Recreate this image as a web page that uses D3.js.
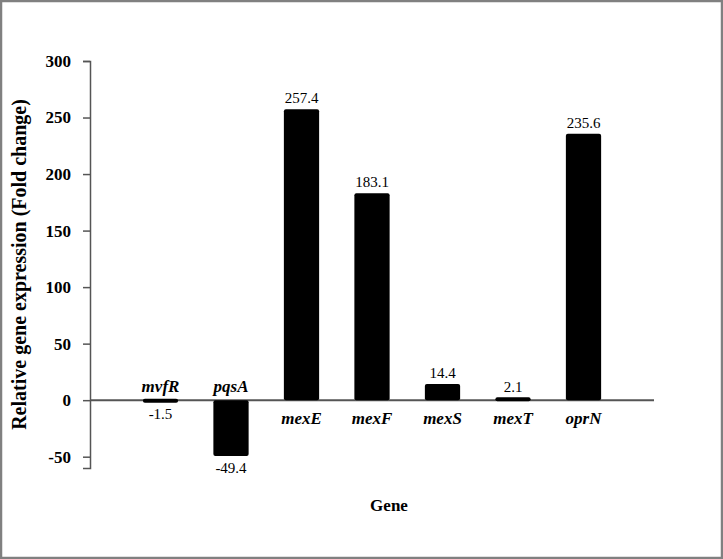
<!DOCTYPE html>
<html>
<head>
<meta charset="utf-8">
<script src="https://cdn.jsdelivr.net/npm/d3@7"></script>
<style>
  body { margin: 0; background: #fff; }
  svg { display: block; }
</style>
</head>
<body>
<svg id="chart" width="723" height="559"></svg>
<script>
const genes = ['mvfR', 'pqsA', 'mexE', 'mexF', 'mexS', 'mexT', 'oprN']
const foldChange = [-1.5, -49.4, 257.4, 183.1, 14.4, 2.1, 235.6]
const yTicks = [-50, 0, 50, 100, 150, 200, 250, 300]

const width = 723
const height = 559
const margin = { left: 90, right: 69, top: 61, bottom: 91 }
const font = '"Liberation Serif", "Times New Roman", serif'
const axisColor = '#555'

const svg = d3.select('#chart')

// outer frame
svg.append('rect')
  .attr('x', 1).attr('y', 1)
  .attr('width', width - 2).attr('height', height - 2)
  .attr('fill', 'none')
  .attr('stroke', '#808080')
  .attr('stroke-width', 2.5)

const x = d3.scaleBand()
  .domain(genes)
  .range([margin.left, width - margin.right])
  .paddingInner(0.5)
  .paddingOuter(0.75)

const y = d3.scaleLinear()
  .domain([-60, 300])
  .range([height - margin.bottom, margin.top])

// zero line
svg.append('line')
  .attr('x1', margin.left).attr('x2', width - margin.right)
  .attr('y1', y(0)).attr('y2', y(0))
  .attr('stroke', axisColor)
  .attr('stroke-width', 2)

// bars, drawn over the zero line (tiny ones get a minimum thickness)
svg.append('g')
  .selectAll('rect')
  .data(genes)
  .join('rect')
  .attr('x', d => x(d))
  .attr('width', x.bandwidth())
  .attr('y', (d, i) => {
    const h = Math.abs(y(foldChange[i]) - y(0))
    if (h < 4) return foldChange[i] >= 0 ? y(0) - 3 : y(0) - 1.5
    return y(Math.max(0, foldChange[i]))
  })
  .attr('height', (d, i) => Math.max(4, Math.abs(y(foldChange[i]) - y(0))))
  .attr('rx', 2)
  .attr('fill', '#000')

// y axis
const yAxis = svg.append('g')
  .attr('transform', `translate(${margin.left},0)`)
  .call(d3.axisLeft(y).tickValues(yTicks).tickFormat(d => String(d))
    .tickSizeOuter(0).tickSize(7).tickPadding(12))
yAxis.select('.domain').attr('stroke', axisColor).attr('stroke-width', 1.5)
yAxis.selectAll('.tick line').attr('stroke', axisColor).attr('stroke-width', 1.5)
yAxis.selectAll('.tick text')
  .attr('font-family', font)
  .attr('font-size', 17)
  .attr('font-weight', 'bold')
  .attr('fill', '#000')

// value labels
svg.append('g')
  .selectAll('text')
  .data(genes)
  .join('text')
  .attr('x', d => x(d) + x.bandwidth() / 2)
  .attr('y', (d, i) => foldChange[i] >= 0 ? y(foldChange[i]) - 6 : y(foldChange[i]) + 17)
  .attr('text-anchor', 'middle')
  .attr('font-family', font)
  .attr('font-size', 15)
  .text((d, i) => String(foldChange[i]))

// gene labels
svg.append('g')
  .selectAll('text')
  .data(genes)
  .join('text')
  .attr('x', d => x(d) + x.bandwidth() / 2)
  .attr('y', (d, i) => foldChange[i] >= 0 ? y(0) + 24 : y(0) - 8)
  .attr('text-anchor', 'middle')
  .attr('font-family', font)
  .attr('font-size', 17)
  .attr('font-weight', 'bold')
  .attr('font-style', 'italic')
  .text(d => d)

// axis titles
svg.append('text')
  .attr('transform', `translate(26,${(margin.top + height - margin.bottom) / 2}) rotate(-90)`)
  .attr('text-anchor', 'middle')
  .attr('font-family', font)
  .attr('font-size', 20)
  .attr('font-weight', 'bold')
  .text('Relative gene expression (Fold change)')

svg.append('text')
  .attr('x', 389)
  .attr('y', 511)
  .attr('text-anchor', 'middle')
  .attr('font-family', font)
  .attr('font-size', 17)
  .attr('font-weight', 'bold')
  .text('Gene')
</script>
</body>
</html>
